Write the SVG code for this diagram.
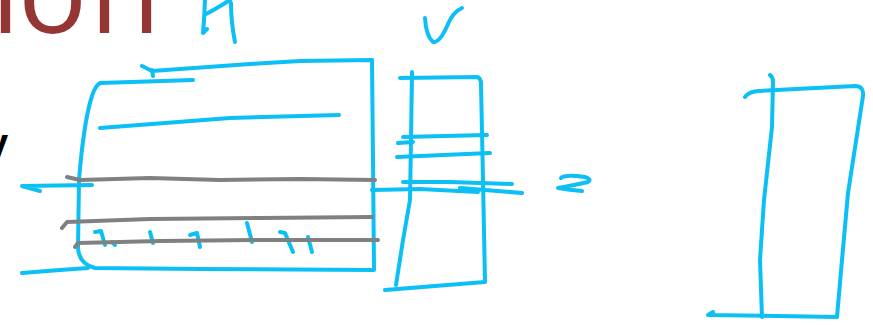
<svg xmlns="http://www.w3.org/2000/svg" width="873" height="325" viewBox="0 0 873 325">
<style>
.ink{fill:none;stroke:#0cbff5;stroke-width:4;stroke-linecap:round;stroke-linejoin:round}
.gray{fill:none;stroke:#808080;stroke-width:4;stroke-linecap:round;stroke-linejoin:round}
.title{font-family:"Open Sans","Liberation Sans",sans-serif;font-size:115px;fill:#943634}
.body{font-family:"Liberation Sans",Arial,sans-serif;font-size:40px;font-weight:bold;fill:#000}
</style>
<rect width="873" height="325" fill="#ffffff"/>
<text class="title" y="33"><tspan x="-9">i</tspan><tspan x="18">o</tspan><tspan x="90">n</tspan></text>
<text class="body" x="-14" y="157">y</text>

<g id="label-M">
<path class="ink" d="M205,0 L204,20 L203,33 L207,29"/>
<path class="ink" d="M206,14 Q214,10 230,0"/>
<path class="ink" d="M231,3 Q231,22 235,42"/>
</g>
<g id="label-V">
<path class="ink" d="M425,18 Q426,36 433,42 Q440,43 448,24 Q453,12 462,8"/>
</g>

<g id="matrix-M">
<path class="ink" d="M142,66 L152,71 L250,64 L300,61 L372,60 L373,160 L374,270 L200,269 L95,268 Q79,264 78,248 L79,180 Q84,120 92,96 Q95,86 100,83 L193,80"/>
<path class="ink" d="M152,70 L153,76"/>
<path class="ink" d="M100,128 L230,118 L339,115"/>
<path class="ink" d="M22,186 L92,185 M22,186 L40,191"/>
<path class="ink" d="M22,273 L60,270 L88,268"/>
<path class="ink" d="M95,232 L101,231 L105,245"/>
<path class="ink" d="M112,242 L115,245"/>
<path class="ink" d="M150,232 L153,243"/>
<path class="ink" d="M190,235 L197,233 L200,247"/>
<path class="ink" d="M247,223 L252,242"/>
<path class="ink" d="M280,232 L285,233 L293,252"/>
<path class="ink" d="M308,237 L312,252"/>
</g>

<g id="rows">
<path class="gray" d="M67,177 L80,180 L150,178 L220,180 L300,179 L375,180"/>
<path class="gray" d="M62,228 L67,222 L150,219 L260,218 L372,217"/>
<path class="gray" d="M75,247 L78,243 L160,241 L260,240 L378,240"/>
</g>

<g id="vector-V">
<path class="ink" d="M412,72 L411,140 L410,200 L403,240 L396,285"/>
<path class="ink" d="M400,78 L477,77 Q481,78 481,84 L483,180 L485,282 L385,290"/>
<path class="ink" d="M403,137 L487,135"/>
<path class="ink" d="M398,143 L413,142"/>
<path class="ink" d="M397,157 L490,153"/>
<path class="ink" d="M403,182 L450,182 L512,184"/>
<path class="ink" d="M372,190 L420,189 L478,192"/>
<path class="ink" d="M460,188 L522,193"/>
</g>

<g id="equals">
<path class="ink" d="M561,178 Q565,174 585,177 Q592,179 588,182 Q575,185 558,188 Q570,190 582,191"/>
</g>

<g id="result">
<path class="ink" d="M770,75 Q773,77 773,82 L772,127 L764,200 L760,260 L762,317"/>
<path class="ink" d="M745,97 Q748,92 758,91 L855,86 Q864,86 863,96 L848,193 L842,260 L837,317 L708,315 L713,312"/>
</g>
</svg>
